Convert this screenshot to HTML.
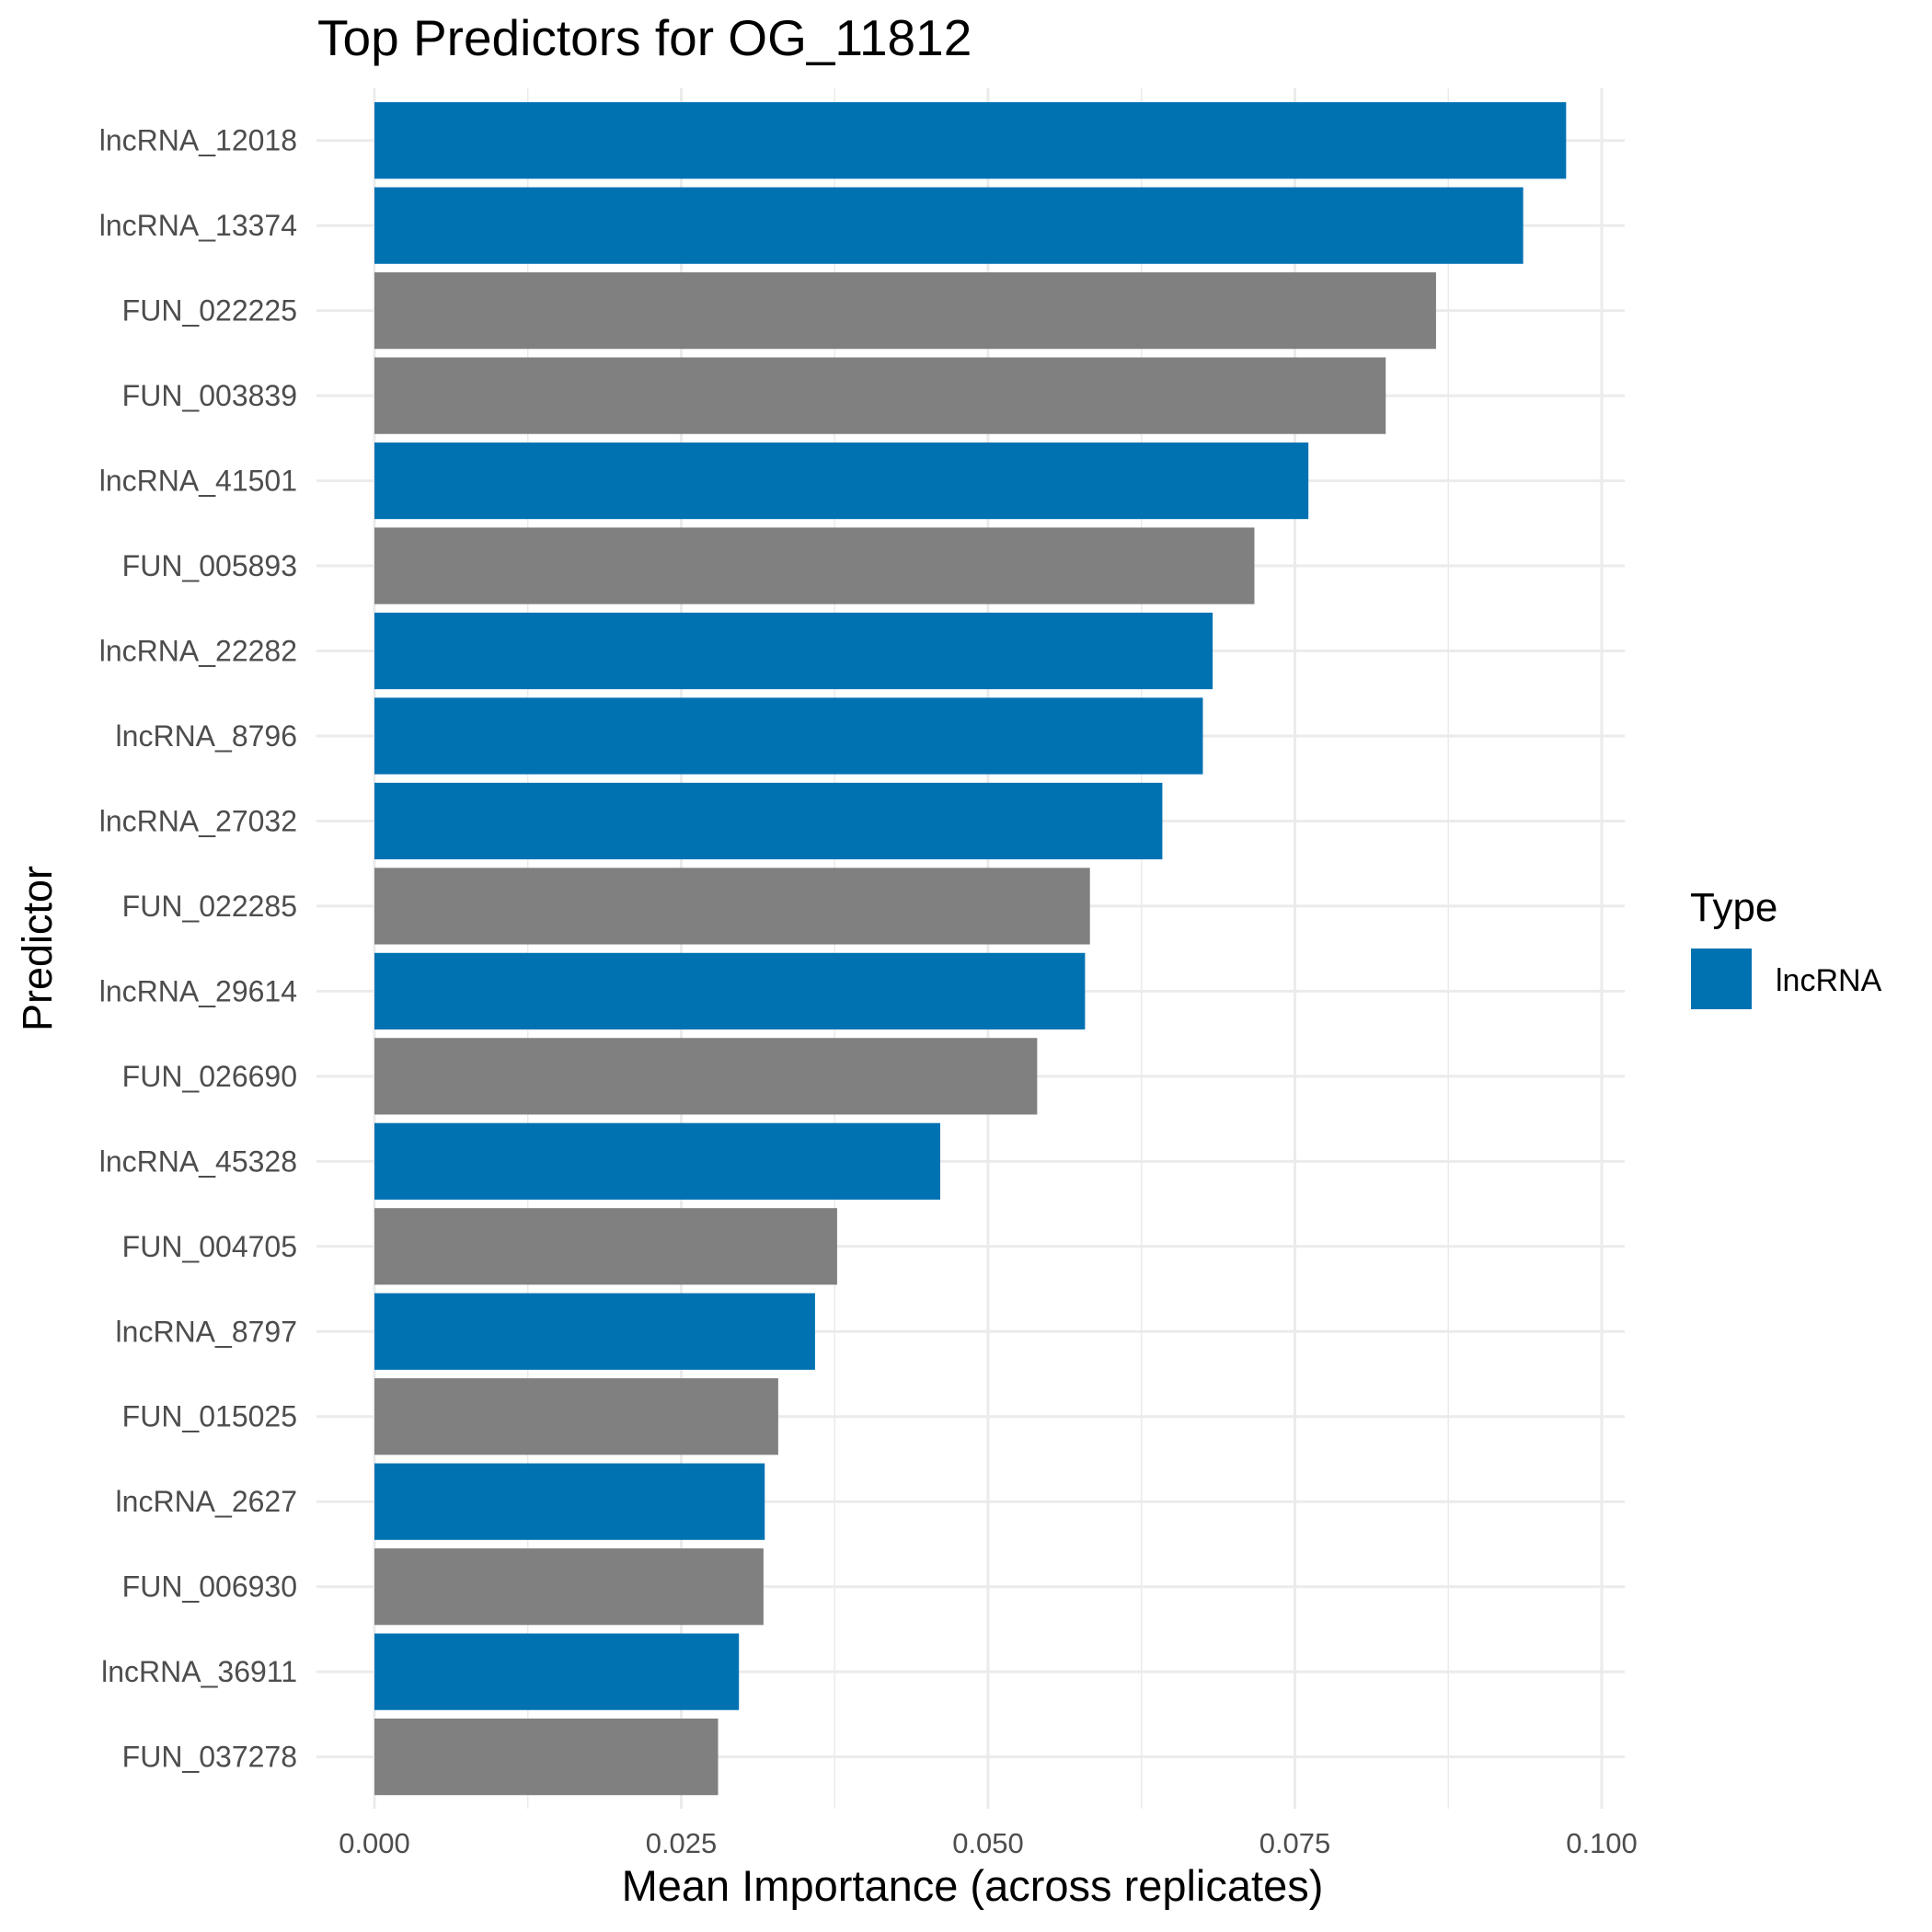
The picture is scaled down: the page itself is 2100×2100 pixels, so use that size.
<!DOCTYPE html>
<html><head><meta charset="utf-8"><style>
html,body{margin:0;padding:0;background:#fff;}
svg{display:block;font-family:"Liberation Sans","DejaVu Sans",sans-serif;}
</style></head><body>
<svg id="chart" width="2100" height="2100" viewBox="0 0 2100 2100">
<text x="345" y="60" font-size="55" fill="#000">Top Predictors for OG_11812</text>
<g id="grid"></g><g id="bars"></g><g id="ylabels"></g><g id="xlabels"></g>
<text x="1057" y="2066" font-size="47" fill="#000" text-anchor="middle">Mean Importance (across replicates)</text>
<text transform="translate(56,1031) rotate(-90)" font-size="45" fill="#000" text-anchor="middle">Predictor</text>
<text x="1837" y="1001" font-size="44" fill="#000">Type</text>
<rect x="1838" y="1031" width="66" height="66" fill="#0072B2"></rect>
<text x="1930" y="1077" font-size="34" fill="#000">lncRNA</text>
</svg>
<script>
const categories = ["lncRNA_12018","lncRNA_13374","FUN_022225","FUN_003839","lncRNA_41501","FUN_005893","lncRNA_22282","lncRNA_8796","lncRNA_27032","FUN_022285","lncRNA_29614","FUN_026690","lncRNA_45328","FUN_004705","lncRNA_8797","FUN_015025","lncRNA_2627","FUN_006930","lncRNA_36911","FUN_037278"];
const values = [0.0971,0.0936,0.0865,0.0824,0.0761,0.0717,0.0683,0.0675,0.0642,0.0583,0.0579,0.0540,0.0461,0.0377,0.0359,0.0329,0.0318,0.0317,0.0297,0.0280];
const types = ["lncRNA","lncRNA","FUN","FUN","lncRNA","FUN","lncRNA","lncRNA","lncRNA","FUN","lncRNA","FUN","lncRNA","FUN","lncRNA","FUN","lncRNA","FUN","lncRNA","FUN"];
const xTicks = [0,0.025,0.05,0.075,0.1];
const xTickLabels = ["0.000","0.025","0.050","0.075","0.100"];

const NS="http://www.w3.org/2000/svg";
const x0=407, x1=1741, panelL=344, panelR=1766, panelT=96, panelB=1966;
function xScale(v){return x0+(x1-x0)*v/0.1;}
const step=(1909.6-152.7)/(categories.length-1);
function yScale(i){return 152.7+i*step;}
function mk(tag,attrs,parent){const e=document.createElementNS(NS,tag);for(const k in attrs)e.setAttribute(k,attrs[k]);parent.appendChild(e);return e;}
const grid=document.getElementById('grid'),bars=document.getElementById('bars'),yl=document.getElementById('ylabels'),xl=document.getElementById('xlabels');
for(let i=0;i<xTicks.length-1;i++){const m=(xTicks[i]+xTicks[i+1])/2;
 const l=mk('line',{x1:xScale(m),x2:xScale(m),y1:panelT,y2:panelB,stroke:'#ebebeb','stroke-width':1.5},grid);
 
 }
xTicks.forEach((t,i)=>{
 const l=mk('line',{x1:xScale(t),x2:xScale(t),y1:panelT,y2:panelB,stroke:'#ebebeb','stroke-width':3},grid);
 
 
 const tx=mk('text',{x:xScale(t),y:2014,'font-size':31,fill:'#4d4d4d','text-anchor':'middle'},xl);
 tx.textContent=xTickLabels[i];
 
 
});
categories.forEach((c,i)=>{
 const y=yScale(i);
 const l=mk('line',{x1:panelL,x2:panelR,y1:y,y2:y,stroke:'#ebebeb','stroke-width':3},grid);
 
 
 const h=step*0.9;
 const r=mk('rect',{x:xScale(0),y:y-h/2,width:xScale(values[i])-xScale(0),height:h,fill:types[i]==='lncRNA'?'#0072B2':'#808080'},bars);
 
 
 const t=mk('text',{x:323,y:y+11,'font-size':32,fill:'#4d4d4d','text-anchor':'end'},yl);
 t.textContent=c;
 
 
});
</script>
</body></html>
